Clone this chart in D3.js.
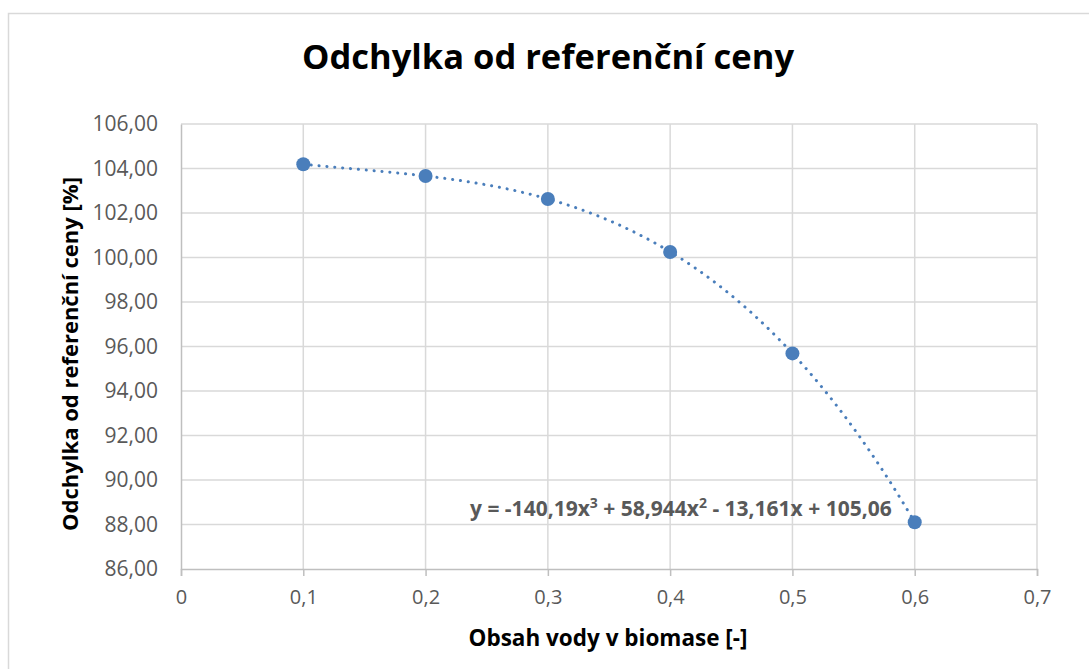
<!DOCTYPE html>
<html>
<head>
<meta charset="utf-8">
<script src="https://cdn.jsdelivr.net/npm/d3@7"></script>
<style>
  body { margin: 0; background: #fff; }
  text { font-family: "Open Sans", "Noto Sans", sans-serif; }
</style>
</head>
<body>
<div id="chart"></div>
<script>
// values
const xValues = [0.1, 0.2, 0.3, 0.4, 0.5, 0.6];
const yValues = [104.19, 103.66, 102.63, 100.25, 95.69, 88.10];
// polynomial trendline coefficients (x^3, x^2, x, 1) as shown on the chart
const trendCoef = [-140.19, 58.944, -13.161, 105.06];
const xTicks = [0, 0.1, 0.2, 0.3, 0.4, 0.5, 0.6, 0.7];
const yTicks = [86, 88, 90, 92, 94, 96, 98, 100, 102, 104, 106];

const width = 1089, height = 669;
const plot = { left: 181, right: 1037, top: 124, bottom: 569 };
const blue = "#4a7ebb";
const comma = s => s.replace(".", ",");

const svg = d3.select("#chart").append("svg")
  .attr("width", width)
  .attr("height", height);

// chart border
svg.append("rect")
  .attr("x", 8.5).attr("y", 13.5)
  .attr("width", 1100).attr("height", 700)
  .attr("fill", "#fff")
  .attr("stroke", "#d9d9d9")
  .attr("stroke-width", 1.5);

const x = d3.scaleLinear().domain([0, 0.7]).range([plot.left, plot.right]);
const y = d3.scaleLinear().domain([86, 106]).range([plot.bottom, plot.top]);

// gridlines
svg.append("g")
  .selectAll("line.h")
  .data(yTicks.slice(1))
  .enter().append("line")
  .attr("x1", plot.left).attr("x2", plot.right)
  .attr("y1", d => y(d)).attr("y2", d => y(d))
  .attr("stroke", "#d9d9d9").attr("stroke-width", 1.5);

svg.append("g")
  .selectAll("line.v")
  .data(xTicks.slice(1))
  .enter().append("line")
  .attr("x1", d => x(d)).attr("x2", d => x(d))
  .attr("y1", plot.top).attr("y2", plot.bottom)
  .attr("stroke", "#d9d9d9").attr("stroke-width", 1.5);

// x axis
const xAxis = svg.append("g")
  .attr("transform", "translate(0," + plot.bottom + ")")
  .call(d3.axisBottom(x).tickValues(xTicks).tickSize(7).tickPadding(14)
    .tickFormat(d => d === 0 ? "0" : comma(d3.format(".1f")(d))));
xAxis.select(".domain").attr("stroke", "#bfbfbf").attr("stroke-width", 1.5);
xAxis.selectAll(".tick line").attr("stroke", "#bfbfbf").attr("stroke-width", 1.5);
xAxis.selectAll(".tick text")
  .attr("fill", "#595959").style("font-size", "20px");

// y axis
const yAxis = svg.append("g")
  .attr("transform", "translate(" + plot.left + ",0)")
  .call(d3.axisLeft(y).tickValues(yTicks).tickSize(0).tickPadding(23)
    .tickFormat(d => comma(d3.format(".2f")(d))));
yAxis.select(".domain").attr("stroke", "#bfbfbf").attr("stroke-width", 1.5);
yAxis.selectAll(".tick text")
  .attr("fill", "#595959").style("font-size", "21px");

// trendline
const poly = v => trendCoef[0] * v * v * v + trendCoef[1] * v * v + trendCoef[2] * v + trendCoef[3];
const trendX = d3.range(0.1, 0.6001, 0.005);
svg.append("path")
  .datum(trendX)
  .attr("d", d3.line().x(d => x(d)).y(d => y(poly(d))).curve(d3.curveMonotoneX))
  .attr("fill", "none")
  .attr("stroke", blue)
  .attr("stroke-width", 3)
  .attr("stroke-linecap", "round")
  .attr("stroke-dasharray", "0.1 7.8");

// markers
svg.append("g")
  .selectAll("circle")
  .data(xValues)
  .enter().append("circle")
  .attr("cx", d => x(d))
  .attr("cy", (d, i) => y(yValues[i]))
  .attr("r", 7)
  .attr("fill", blue);

// trendline equation
const eq = svg.append("text")
  .attr("x", 470).attr("y", 516)
  .attr("fill", "#595959")
  .style("font-size", "21px")
  .style("font-weight", "bold");
eq.append("tspan").text("y = -140,19x");
eq.append("tspan").text("3").attr("dy", -8).style("font-size", "14px");
eq.append("tspan").text(" + 58,944x").attr("dy", 8);
eq.append("tspan").text("2").attr("dy", -8).style("font-size", "14px");
eq.append("tspan").text(" - 13,161x + 105,06").attr("dy", 8);

// title
svg.append("text")
  .attr("x", 548).attr("y", 69)
  .attr("text-anchor", "middle")
  .style("font-size", "34.5px")
  .style("font-weight", "bold")
  .attr("fill", "#000")
  .text("Odchylka od referenční ceny");

// axis titles
svg.append("text")
  .attr("x", 608).attr("y", 646)
  .attr("text-anchor", "middle")
  .style("font-size", "22.5px")
  .style("font-weight", "bold")
  .text("Obsah vody v biomase [-]");

svg.append("text")
  .attr("transform", "translate(78,354) rotate(-90)")
  .attr("text-anchor", "middle")
  .style("font-size", "22px")
  .style("font-weight", "bold")
  .text("Odchylka od referenční ceny [%]");
</script>
</body>
</html>
